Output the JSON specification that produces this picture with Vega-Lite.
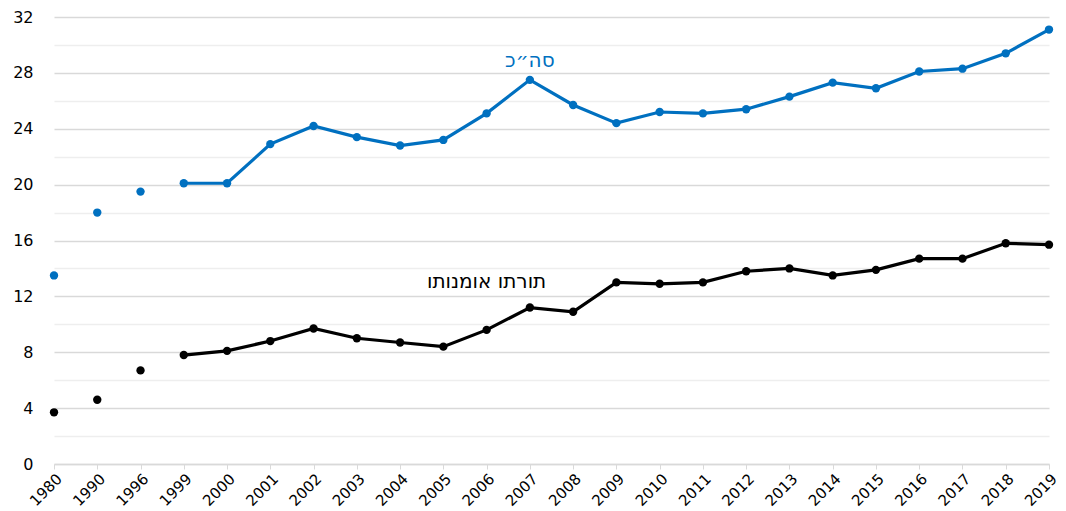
{
  "$schema": "https://vega.github.io/schema/vega-lite/v6.json",
  "width": 995,
  "height": 447,
  "autosize": {"type": "none"},
  "padding": {"left": 54, "top": 17, "right": 17, "bottom": 47},
  "background": "white",
  "config": {"view": {"stroke": null}, "font": "DejaVu Sans"},
  "datasets": {
    "main": [
      {"year": 1980, "series": "total", "value": 13.5},
      {"year": 1990, "series": "total", "value": 18.0},
      {"year": 1996, "series": "total", "value": 19.5},
      {"year": 1999, "series": "total", "value": 20.1},
      {"year": 2000, "series": "total", "value": 20.1},
      {"year": 2001, "series": "total", "value": 22.9},
      {"year": 2002, "series": "total", "value": 24.2},
      {"year": 2003, "series": "total", "value": 23.4},
      {"year": 2004, "series": "total", "value": 22.8},
      {"year": 2005, "series": "total", "value": 23.2},
      {"year": 2006, "series": "total", "value": 25.1},
      {"year": 2007, "series": "total", "value": 27.5},
      {"year": 2008, "series": "total", "value": 25.7},
      {"year": 2009, "series": "total", "value": 24.4},
      {"year": 2010, "series": "total", "value": 25.2},
      {"year": 2011, "series": "total", "value": 25.1},
      {"year": 2012, "series": "total", "value": 25.4},
      {"year": 2013, "series": "total", "value": 26.3},
      {"year": 2014, "series": "total", "value": 27.3},
      {"year": 2015, "series": "total", "value": 26.9},
      {"year": 2016, "series": "total", "value": 28.1},
      {"year": 2017, "series": "total", "value": 28.3},
      {"year": 2018, "series": "total", "value": 29.4},
      {"year": 2019, "series": "total", "value": 31.1},
      {"year": 1980, "series": "torato", "value": 3.7},
      {"year": 1990, "series": "torato", "value": 4.6},
      {"year": 1996, "series": "torato", "value": 6.7},
      {"year": 1999, "series": "torato", "value": 7.8},
      {"year": 2000, "series": "torato", "value": 8.1},
      {"year": 2001, "series": "torato", "value": 8.8},
      {"year": 2002, "series": "torato", "value": 9.7},
      {"year": 2003, "series": "torato", "value": 9.0},
      {"year": 2004, "series": "torato", "value": 8.7},
      {"year": 2005, "series": "torato", "value": 8.4},
      {"year": 2006, "series": "torato", "value": 9.6},
      {"year": 2007, "series": "torato", "value": 11.2},
      {"year": 2008, "series": "torato", "value": 10.9},
      {"year": 2009, "series": "torato", "value": 13.0},
      {"year": 2010, "series": "torato", "value": 12.9},
      {"year": 2011, "series": "torato", "value": 13.0},
      {"year": 2012, "series": "torato", "value": 13.8},
      {"year": 2013, "series": "torato", "value": 14.0},
      {"year": 2014, "series": "torato", "value": 13.5},
      {"year": 2015, "series": "torato", "value": 13.9},
      {"year": 2016, "series": "torato", "value": 14.7},
      {"year": 2017, "series": "torato", "value": 14.7},
      {"year": 2018, "series": "torato", "value": 15.8},
      {"year": 2019, "series": "torato", "value": 15.7}
    ],
    "labels": [
      {"year": 2007, "series": "total", "value": 28.85, "text": "סה״כ"},
      {"year": 2006, "series": "torato", "value": 13.0, "text": "תורתו אומנותו"}
    ]
  },
  "encoding": {
    "x": {
      "field": "year",
      "type": "ordinal",
      "scale": {"type": "point", "padding": 0},
      "axis": {
        "title": null,
        "labelAngle": -45,
        "labelFontSize": 15,
        "labelColor": "#000000",
        "labelPadding": 2,
        "domainColor": "#d9d9d9",
        "domainWidth": 1.5,
        "tickColor": "#d9d9d9",
        "tickSize": 5,
        "grid": false
      }
    },
    "y": {
      "field": "value",
      "type": "quantitative",
      "scale": {"domain": [0, 32], "nice": false},
      "axis": {
        "title": null,
        "values": [0, 2, 4, 6, 8, 10, 12, 14, 16, 18, 20, 22, 24, 26, 28, 30, 32],
        "labelExpr": "datum.value % 4 === 0 ? datum.label : ''",
        "labelFontSize": 16,
        "labelColor": "#000000",
        "labelPadding": 21,
        "domain": false,
        "ticks": false,
        "grid": true,
        "gridColor": {"condition": {"test": "datum.value % 4 === 0", "value": "#d9d9d9"}, "value": "#eeeeee"},
        "gridWidth": 1.5
      }
    },
    "color": {
      "field": "series",
      "type": "nominal",
      "scale": {"domain": ["total", "torato"], "range": ["#0070C0", "#000000"]},
      "legend": null
    }
  },
  "layer": [
    {
      "data": {"name": "main"},
      "transform": [{"filter": "datum.year >= 1999"}],
      "mark": {"type": "line", "strokeWidth": 3.2}
    },
    {
      "data": {"name": "main"},
      "mark": {"type": "point", "filled": true, "opacity": 1, "size": 70}
    },
    {
      "data": {"name": "labels"},
      "mark": {"type": "text", "fontSize": 20, "align": "center", "baseline": "middle"},
      "encoding": {"text": {"field": "text"}}
    }
  ]
}
